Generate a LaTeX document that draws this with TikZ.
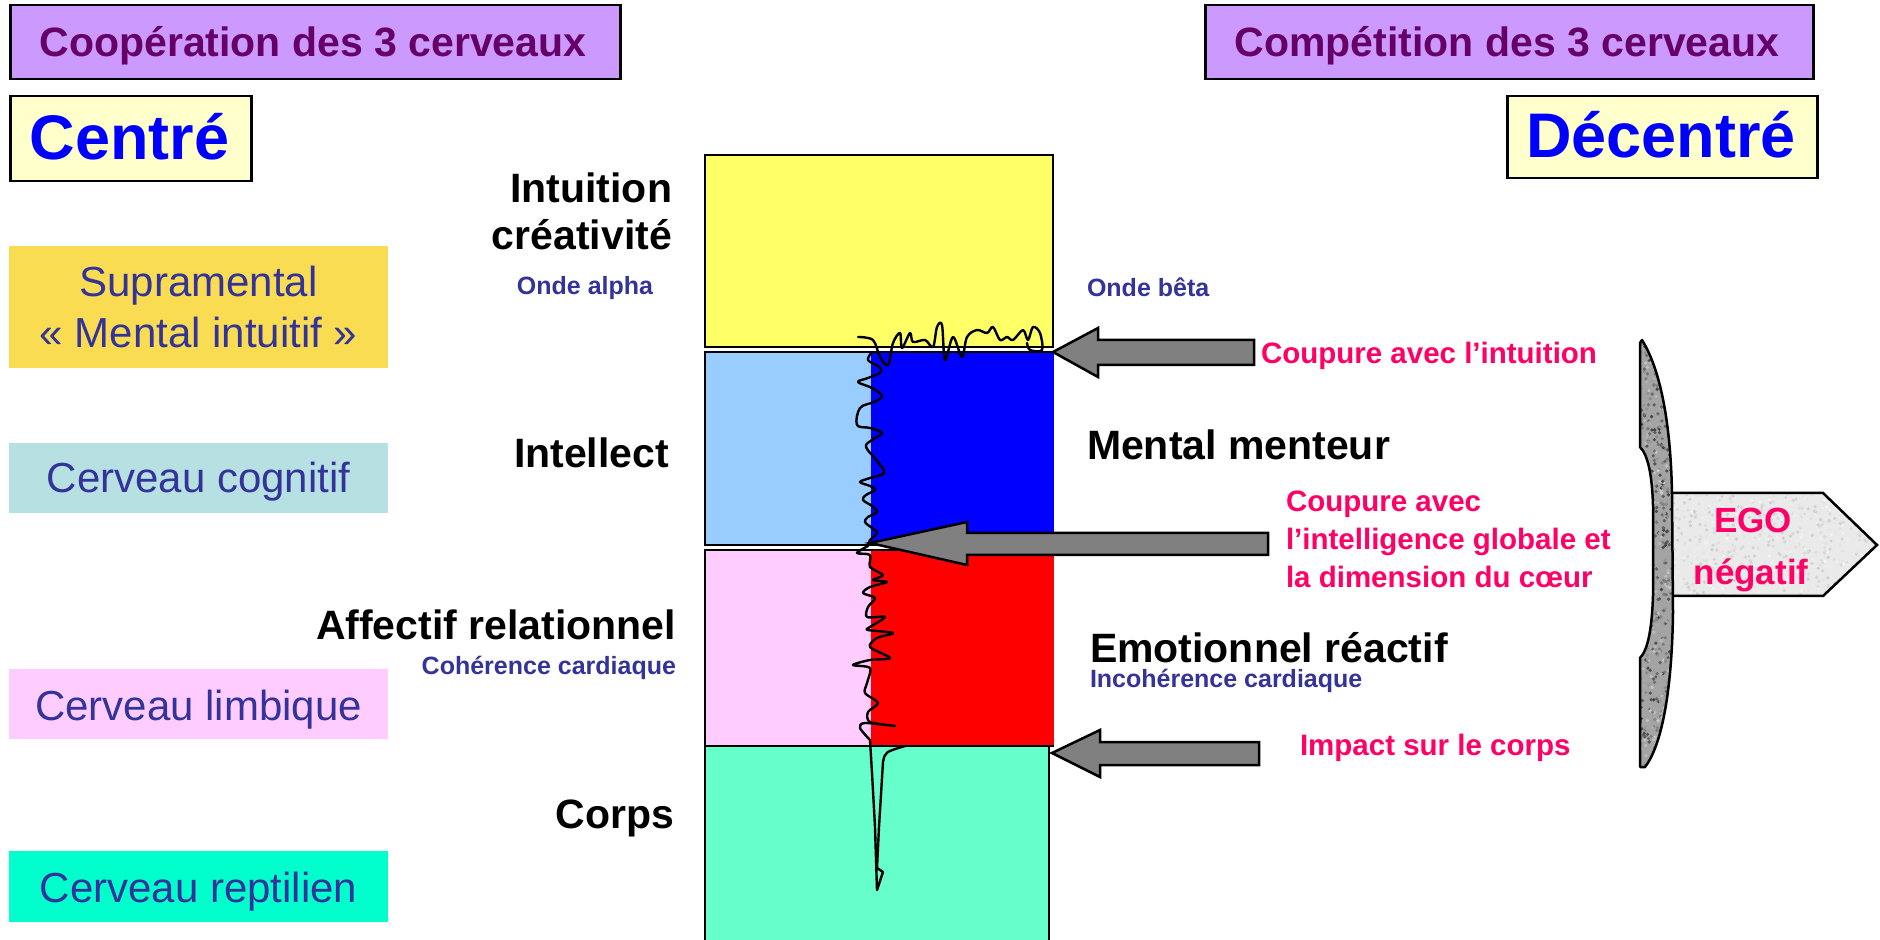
\documentclass[tikz,border=0pt]{standalone}
\usepackage{fontspec}
\setmainfont{Liberation Sans}
\definecolor{purp}{HTML}{CC99FF}
\definecolor{purptxt}{HTML}{660066}
\definecolor{cream}{HTML}{FFFFCC}
\definecolor{navy}{HTML}{333399}
\definecolor{hot}{HTML}{FF0066}
\definecolor{yel}{HTML}{FFFF66}
\definecolor{lblue}{HTML}{99CCFF}
\definecolor{lpink}{HTML}{FFCCFF}
\definecolor{mint}{HTML}{66FFCC}
\definecolor{gold}{HTML}{F9DC52}
\definecolor{teal1}{HTML}{B7E0E3}
\definecolor{aqua}{HTML}{00FFCC}
\definecolor{arrgray}{HTML}{808080}
\definecolor{bracegray}{HTML}{A4A4A4}
\definecolor{egogray}{HTML}{EAEAEA}
\tikzset{
  box/.style={draw=black, line width=1.25pt},
  txt/.style={inner sep=0pt, outer sep=0pt},
  titlef/.style={txt, font=\fontsize{20.5}{24}\selectfont\bfseries, text=purptxt},
  bigf/.style={txt, font=\fontsize{31.5}{36}\selectfont\bfseries, text=blue},
  leftf/.style={txt, font=\fontsize{21}{25}\selectfont, text=navy},
  lblf/.style={txt, font=\fontsize{20.5}{24}\selectfont\bfseries, text=black},
  smallf/.style={txt, font=\fontsize{12.5}{15}\selectfont\bfseries, text=navy},
  pinkf/.style={txt, font=\fontsize{14.75}{18}\selectfont\bfseries, text=hot},
  egof/.style={txt, font=\fontsize{17.5}{21}\selectfont\bfseries, text=hot},
  blockarrow/.style={draw=black, line width=1.25pt, fill=arrgray, line join=miter},
  scribble/.style={draw=black, line width=1.2pt, line join=round, line cap=round},
}
\begin{document}
\begin{tikzpicture}[x=0.5pt, y=-0.5pt]
\useasboundingbox (0,0) rectangle (1880,940);

% title boxes
\node[box, fill=purp, minimum width=305pt, minimum height=37pt, anchor=north west] (coop) at (9,4) {};
\node[titlef, anchor=base] (cooptxt) at (313,57) {Coopération des 3 cerveaux};
\node[box, fill=purp, minimum width=304pt, minimum height=37pt, anchor=north west] (comp) at (1204,4) {};
\node[titlef, anchor=base] (comptxt) at (1507,57) {Compétition des 3 cerveaux};

\node[box, fill=cream, minimum width=120.5pt, minimum height=42.5pt, anchor=north west] (centre) at (9,95) {};
\node[bigf, anchor=base] (centretxt) at (129.5,160) {Centré};
\node[box, fill=cream, minimum width=155pt, minimum height=41pt, anchor=north west] (decentre) at (1506,95) {};
\node[bigf, anchor=base] (decentretxt) at (1661,158) {Décentré};

% left column boxes
\fill[gold] (9,246) rectangle (388,368);
\node[leftf, anchor=base] (supra1) at (198.5,297) {Supramental};
\node[leftf, anchor=base] (supra2) at (198.5,348) {« Mental intuitif »};
\fill[teal1] (9,443) rectangle (388,513);
\node[leftf, anchor=base] (cogn) at (198.5,493) {Cerveau cognitif};
\fill[lpink] (9,669) rectangle (388,739);
\node[leftf, anchor=base] (limb) at (198.5,720) {Cerveau limbique};
\fill[aqua] (9,851) rectangle (388,922);
\node[leftf, anchor=base] (rept) at (198.5,902) {Cerveau reptilien};

% central column
\draw[box, fill=yel] (705,155) rectangle (1053,347);
\draw[box, fill=lblue] (705,352) rectangle (1053,545);
\fill[blue] (871,353.3) rectangle (1054.4,543.7);
\draw[box, fill=lpink] (705,550) rectangle (1053,746);
\fill[red] (871,551.3) rectangle (1054.4,745.3);
\draw[box, fill=mint] (705,746) -- (1049,746) -- (1049,960) -- (705,960) -- cycle;

% labels left of column
\node[lblf, anchor=base east] (intu) at (672,203) {Intuition};
\node[lblf, anchor=base east] (crea) at (672,250) {créativité};
\node[smallf, anchor=base] (alpha) at (585,295) {Onde alpha};
\node[lblf, anchor=base east] (intel) at (669,468) {Intellect};
\node[lblf, anchor=base east] (affect) at (676,640) {Affectif relationnel};
\node[smallf, anchor=base east] (coher) at (676,675) {Cohérence cardiaque};
\node[lblf, anchor=base east] (corps) at (674,828) {Corps};

% labels right of column
\node[smallf, anchor=base west] (beta) at (1087,297) {Onde bêta};
\node[lblf, anchor=base west] (mental) at (1087,460) {Mental menteur};
\node[lblf, anchor=base west] (emot) at (1090,663) {Emotionnel réactif};
\node[smallf, anchor=base west] (incoh) at (1090,688) {Incohérence cardiaque};
\node[pinkf, anchor=base west] (cut1) at (1261,364) {Coupure avec l’intuition};
\node[pinkf, anchor=base west] (cut2a) at (1286,512) {Coupure avec};
\node[pinkf, anchor=base west] (cut2b) at (1286,550) {l’intelligence globale et};
\node[pinkf, anchor=base west] (cut2c) at (1286,588) {la dimension du cœur};
\node[pinkf, anchor=base west] (impact) at (1300,755) {Impact sur le corps};

% scribbles
\draw[scribble] plot[smooth, tension=0.55] coordinates {
 (858,337) (873,340) (880,357) (888,365) (893,343) (900,333) (902,348) (910,333)
 (913,342) (925,340) (933,347) (937,327) (942,325) (945,360) (953,337) (962,357)
 (967,337) (977,330) (987,333) (993,327) (1000,340) (1007,337) (1013,340)
 (1023,330) (1028,340) (1033,327) (1040,333) (1042,350) (1030,350) (1027,343)};
\draw[scribble] plot[smooth, tension=0.6] coordinates {
 (872,352) (868,360) (878,366) (881,372) (868,378) (858,382) (872,388) (882,396)
 (874,402) (860,408) (857,425) (870,428) (882,433) (872,440) (866,447) (878,462)
 (884,473) (870,478) (860,482) (870,486) (875,490) (866,495) (863,500) (872,506)
 (877,512) (868,517) (865,522) (872,528) (877,533) (870,540) (868,546)};
\draw[scribble] plot[smooth, tension=0.5] coordinates {
 (868,546) (857,553) (870,555) (870,567) (883,575) (873,580) (887,582) (870,587)
 (863,593) (875,598) (868,607) (867,617) (885,617) (870,627) (868,630) (893,633)
 (877,638) (870,647) (890,658) (870,660) (853,665) (870,668) (867,683) (865,693)
 (878,703) (868,712) (870,722) (895,726) (865,723) (860,728) (870,740)};
\draw[scribble] (870,740) -- (872,773) -- (875,827) -- (877,890) -- (883,872)
 -- (877,868) -- (879,827) -- (883,762) .. controls (885,752) .. (905,746);

% block arrows
\draw[blockarrow] (1053,352) -- (1098,328) -- (1098,340) -- (1254,340) -- (1254,365)
 -- (1098,365) -- (1098,377) -- cycle;
\draw[blockarrow] (870,543) -- (967,522) -- (967,533) -- (1268,533) -- (1268,555)
 -- (967,555) -- (967,565) -- cycle;
\draw[blockarrow] (1052,753) -- (1100,730) -- (1100,742) -- (1259,742) -- (1259,765)
 -- (1100,765) -- (1100,777) -- cycle;

% EGO arrow (speckled light fill)
\path[save path=\egop] (1665,493) -- (1823,493) -- (1877,545) -- (1823,596) -- (1665,596) -- cycle;
\begin{scope}
  \clip[use path=\egop];
  \fill[egogray] (1660,490) rectangle (1880,600);
  \pgfmathsetseed{11}
  \foreach \i in {1,...,700}{
    \pgfmathsetmacro\xx{1662+rnd*216}
    \pgfmathsetmacro\yy{490+rnd*108}
    \pgfmathsetmacro\gg{int(4+rnd*16)}
    \fill[black!\gg] (\xx,\yy) circle[radius=0.9pt];
  }
\end{scope}
\draw[line width=1.25pt, line join=miter] (1665,493) -- (1823,493) -- (1877,545) -- (1823,596) -- (1665,596);
\node[egof, anchor=base] (ego1) at (1753,533) {EGO};
\node[egof, anchor=base] (ego2) at (1751,585) {négatif};

% brace (speckled grey fill)
\path[save path=\bracep]
 (1642,340) .. controls (1662,372) and (1671,430) .. (1672,495) -- (1673,612)
 .. controls (1672,690) and (1662,745) .. (1645,767) -- (1640,767) -- (1640,658)
 .. controls (1648,650) and (1652,628) .. (1653,595) -- (1653,505)
 .. controls (1652,475) and (1648,455) .. (1640,447) -- (1640,343) -- cycle;
\begin{scope}
  \clip[use path=\bracep];
  \fill[bracegray] (1635,335) rectangle (1680,772);
  \pgfmathsetseed{5}
  \foreach \i in {1,...,700}{
    \pgfmathsetmacro\xx{1636+rnd*40}
    \pgfmathsetmacro\yy{336+rnd*436}
    \pgfmathsetmacro\gg{int(20+rnd*55)}
    \fill[black!\gg] (\xx,\yy) circle[radius=0.9pt];
  }
\end{scope}
\draw[line width=1.25pt, line join=round, use path=\bracep];
\end{tikzpicture}
\end{document}
